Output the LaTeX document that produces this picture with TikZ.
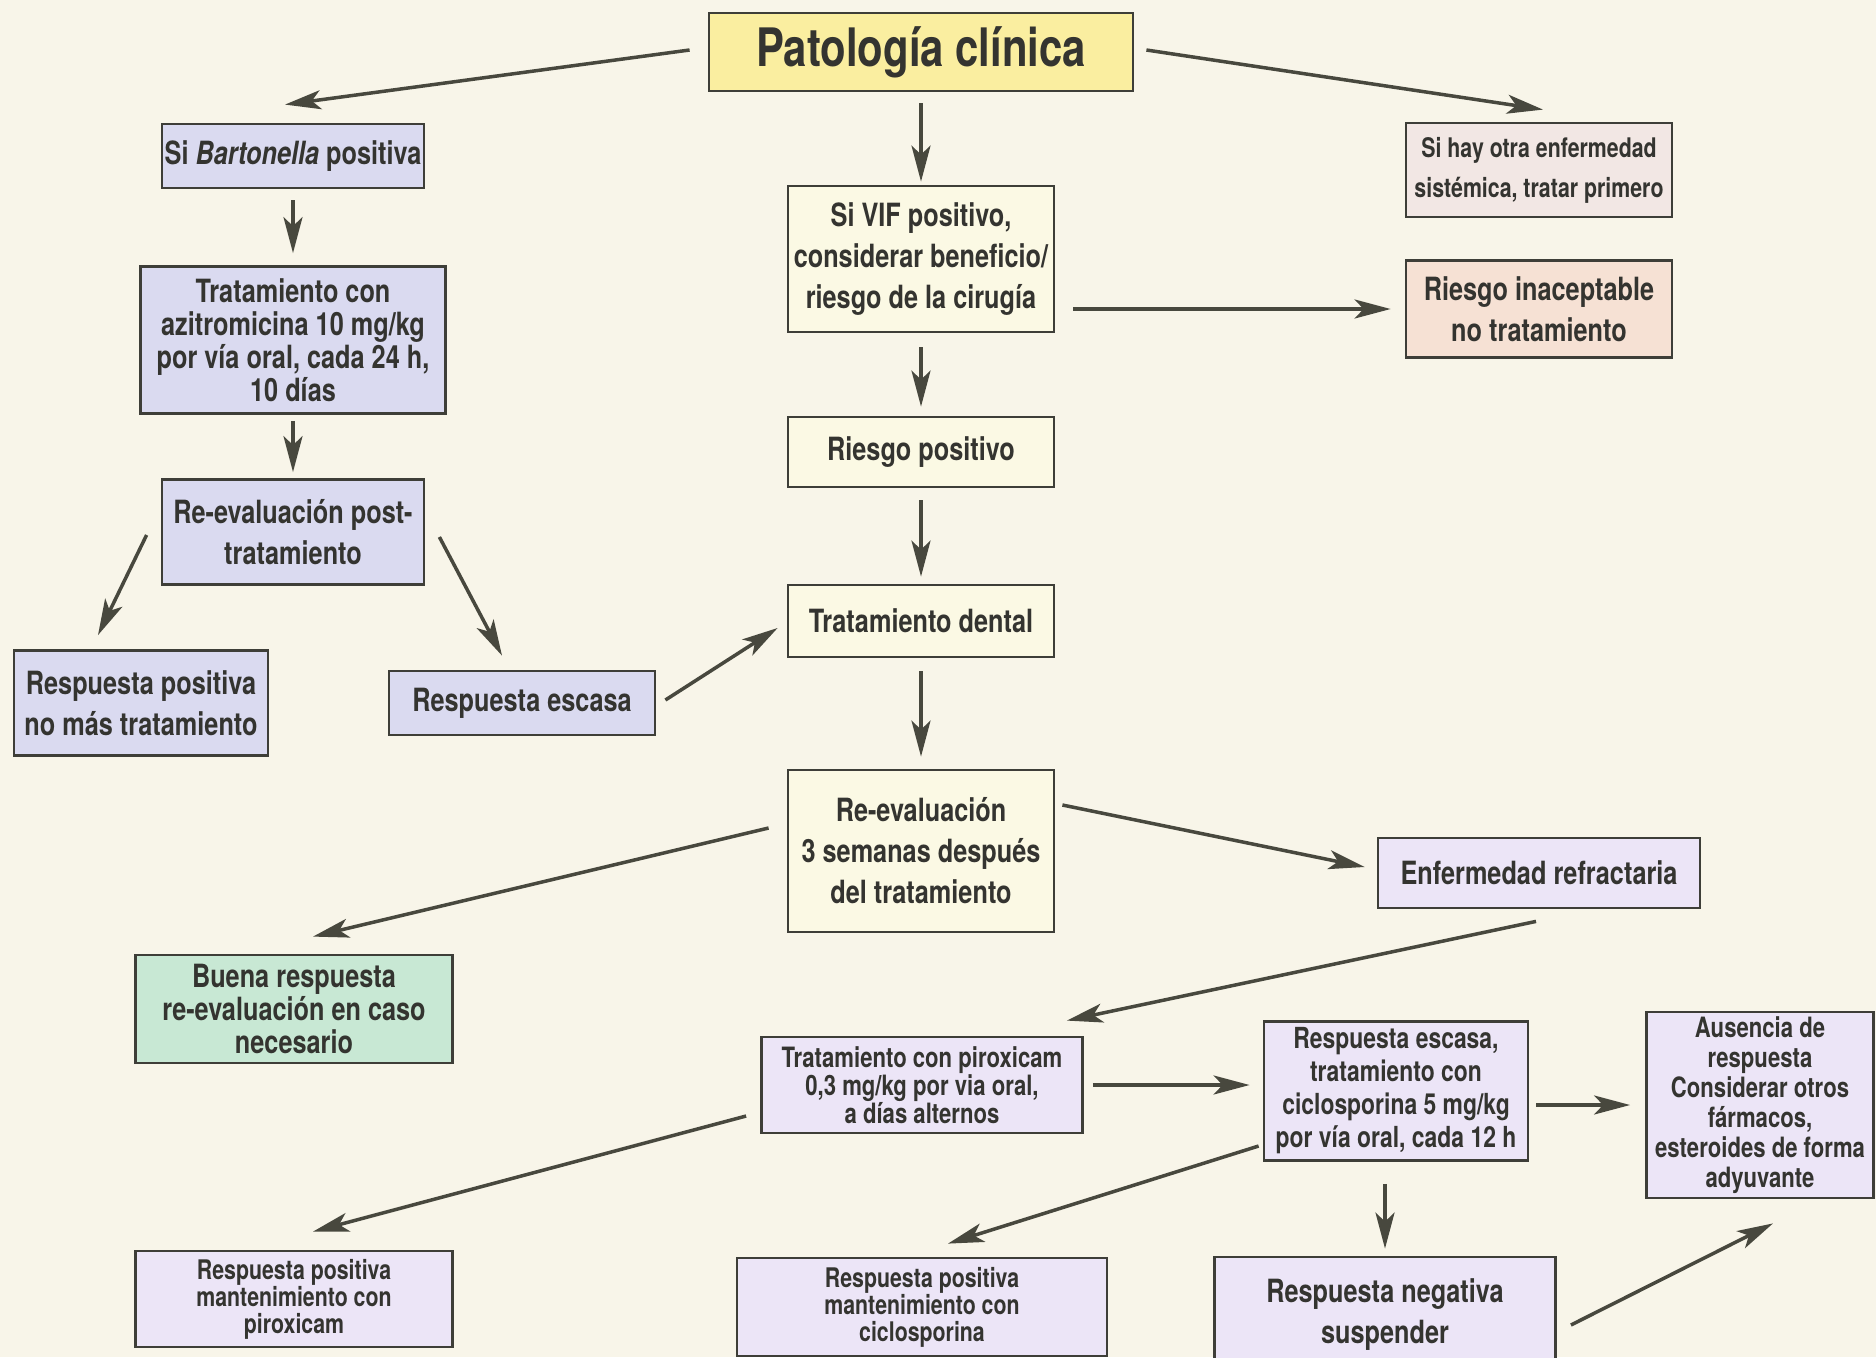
\documentclass[tikz,border=0pt]{standalone}
\usepackage{fontspec}
\setmainfont{TeX Gyre Heros}[FakeStretch=0.79]
\usetikzlibrary{arrows.meta, calc}
\definecolor{zbg}{RGB}{248, 245, 233}
\definecolor{zline}{RGB}{62, 62, 56}
\definecolor{ztext}{RGB}{52, 52, 48}
\definecolor{zarrow}{RGB}{72, 72, 62}
\definecolor{ztitle}{RGB}{250, 238, 160}
\definecolor{zcream}{RGB}{251, 249, 228}
\definecolor{zblue}{RGB}{218, 218, 240}
\definecolor{zpink}{RGB}{242, 231, 228}
\definecolor{zpeach}{RGB}{246, 225, 212}
\definecolor{zlilac}{RGB}{236, 229, 247}
\definecolor{zmint}{RGB}{200, 232, 212}

\begin{document}
\begin{tikzpicture}[
  x=1pt, y=-1pt,
  every node/.style={inner sep=2pt},
  box/.style={rectangle, draw=zline, line width=2.8pt, fill=#1, text=ztext,
              align=center, font=\fontsize{32}{41}\selectfont\bfseries},
  tight/.style={font=\fontsize{32}{33}\selectfont\bfseries},
  small/.style={font=\fontsize{#1}{#1}\selectfont\bfseries},
  arr/.style={-{Stealth[length=36pt, width=19pt, inset=9pt]}, line width=3.5pt, draw=zarrow}
]

\fill[zbg] (0,0) rectangle (1876,1357);
\useasboundingbox (0,0) rectangle (1876,1357);

% Title
\node[box=ztitle, minimum width=424, minimum height=78,
      font=\fontsize{53}{60}\selectfont\bfseries] (title) at (921,52) {Patología clínica};

% Left column
\node[box=zblue, minimum width=262, minimum height=64]  (bart)   at (293,156) {Si \textit{Bartonella} positiva};
\node[box=zblue, tight, minimum width=305, minimum height=147] (azi) at (293,340)
  {Tratamiento con\\azitromicina 10 mg/kg\\por vía oral, cada 24 h,\\10 días};
\node[box=zblue, minimum width=262, minimum height=105] (reev)   at (293,532) {Re-evaluación post-\\tratamiento};
\node[box=zblue, minimum width=254, minimum height=105] (respos) at (141,703) {Respuesta positiva\\no más tratamiento};
\node[box=zblue, minimum width=266, minimum height=64]  (resesc) at (522,703) {Respuesta escasa};

% Centre column
\node[box=zcream, minimum width=266, minimum height=146] (vif)    at (921,259) {Si VIF positivo,\\considerar beneficio/\\riesgo de la cirugía};
\node[box=zcream, minimum width=266, minimum height=70]  (rpos)   at (921,452) {Riesgo positivo};
\node[box=zcream, minimum width=266, minimum height=72]  (dental) at (921,621) {Tratamiento dental};
\node[box=zcream, minimum width=266, minimum height=162] (reev3)  at (921,851) {Re-evaluación\\3 semanas después\\del tratamiento};

% Right column
\node[box=zpink, font=\fontsize{27}{40}\selectfont\bfseries, minimum width=266, minimum height=94] (sihay) at (1539,170)
  {Si hay otra enfermedad\\sistémica, tratar primero};
\node[box=zpeach, minimum width=266, minimum height=97] (rinac) at (1539,309) {Riesgo inaceptable\\no tratamiento};
\node[box=zlilac, minimum width=322, minimum height=70] (refr)  at (1539,873) {Enfermedad refractaria};

% Lower part
\node[box=zmint, tight, minimum width=317, minimum height=108] (buena) at (294,1009)
  {Buena respuesta\\re-evaluación en caso\\necesario};
\node[box=zlilac, small=28, minimum width=321, minimum height=96] (pirox) at (922,1085)
  {Tratamiento con piroxicam\\0,3 mg/kg por via oral,\\a días alternos};
\node[box=zlilac, font=\fontsize{29}{33}\selectfont\bfseries, minimum width=264, minimum height=139] (ciclo) at (1396,1091)
  {Respuesta escasa,\\tratamiento con\\ciclosporina 5 mg/kg\\por vía oral, cada 12 h};
\node[box=zlilac, font=\fontsize{28}{30}\selectfont\bfseries, minimum width=227, minimum height=186] (ausen) at (1760,1105)
  {Ausencia de\\respuesta\\Considerar otros\\fármacos,\\esteroides de forma\\adyuvante};
\node[box=zlilac, small=27, minimum width=317, minimum height=96] (rpirox) at (294,1299)
  {Respuesta positiva\\mantenimiento con\\piroxicam};
\node[box=zlilac, small=27, minimum width=370, minimum height=98] (rciclo) at (922,1307)
  {Respuesta positiva\\mantenimiento con\\ciclosporina};
\node[box=zlilac, minimum width=341, minimum height=116] (rneg) at (1385,1315) {Respuesta negativa\\suspender};

% Arrows
\draw[arr] ($(title.west)+(-18,-2)$) -- ($(bart.north)+(-8,-18)$);
\draw[arr] ($(title.east)+(12,-2)$) -- ($(sihay.north)+(4,-12)$);
\draw[arr, shorten <=11pt, shorten >=3pt] (title.south) -- (vif.north);

\draw[arr, shorten <=11pt, shorten >=12pt] (bart.south) -- (azi.north);
\draw[arr, shorten <=6pt, shorten >=6pt] (azi.south) -- (reev.north);
\draw[arr] ($(reev.west)+(-14,3)$) -- ($(respos.north)+(-43,-14)$);
\draw[arr] ($(reev.east)+(14,5)$) -- ($(resesc.north)+(-20,-14)$);
\draw[arr] ($(resesc.east)+(9,-3)$) -- ($(dental.west)+(-9,7)$);

\draw[arr, shorten <=14pt, shorten >=9pt] (vif.south) -- (rpos.north);
\draw[arr, shorten <=18pt, shorten >=14pt] (vif.east |- rinac.west) -- (rinac.west);
\draw[arr, shorten <=12pt, shorten >=7pt] (rpos.south) -- (dental.north);
\draw[arr, shorten <=13pt, shorten >=12pt] (dental.south) -- (reev3.north);

\draw[arr] ($(reev3.west)+(-18,-23)$) -- ($(buena.north)+(19,-17)$);
\draw[arr] ($(reev3.east)+(7,-46)$) -- ($(refr.west)+(-12,-6)$);
\draw[arr] ($(refr.south)+(-3,12)$) -- ($(pirox.north east)+(-17,-15)$);

\draw[arr, shorten <=9pt, shorten >=13pt] (pirox.east) -- (pirox.east -| ciclo.west);
\draw[arr, shorten <=7pt, shorten >=15pt] (ciclo.east |- ausen.west) -- (ausen.west);
\draw[arr] ($(pirox.west)+(-14,31)$) -- ($(rpirox.north)+(19,-18)$);
\draw[arr] ($(ciclo.west)+(-4,55)$) -- ($(rciclo.north)+(26,-13)$);
\draw[arr, shorten <=22pt, shorten >=7pt] (rneg.north |- ciclo.south) -- (rneg.north);
\draw[arr] ($(rneg.east)+(14,10)$) -- ($(ausen.south)+(13,24)$);

\end{tikzpicture}
\end{document}
